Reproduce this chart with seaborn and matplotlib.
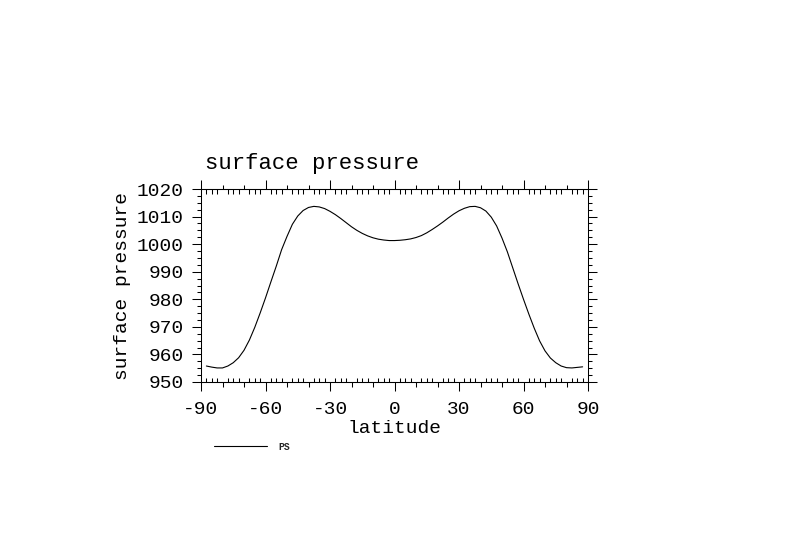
import numpy as np
import pandas as pd
import matplotlib
matplotlib.use("Agg")
import matplotlib.pyplot as plt
from matplotlib.ticker import FixedLocator, NullLocator
import seaborn as sns

# ---- data ----
lat = [-87.5, -85, -82.5, -80, -77.5, -75, -72.5, -70, -67.5, -65, -62.5, -60,
       -57.5, -55, -52.5, -50, -47.5, -45, -42.5, -40, -37.5, -35, -32.5, -30,
       -27.5, -25, -22.5, -20, -17.5, -15, -12.5, -10, -7.5, -5, -2.5, 0,
       2.5, 5, 7.5, 10, 12.5, 15, 17.5, 20, 22.5, 25, 27.5, 30, 32.5, 35,
       37.5, 40, 42.5, 45, 47.5, 50, 52.5, 55, 57.5, 60, 62.5, 65, 67.5, 70,
       72.5, 75, 77.5, 80, 82.5, 85, 87.5]
ps = [955.8, 955.4, 955.1, 955.1, 955.8, 957.0, 958.8, 961.5, 965.2, 969.8, 975.0, 980.5,
      986.3, 992.0, 998.0, 1002.8, 1007.2, 1010.2, 1012.2, 1013.3, 1013.7, 1013.5, 1012.9, 1011.9,
      1010.7, 1009.3, 1007.8, 1006.3, 1005.0, 1003.9, 1003.0, 1002.3, 1001.8, 1001.5, 1001.3, 1001.3,
      1001.4, 1001.6, 1001.9, 1002.4, 1003.1, 1004.1, 1005.3, 1006.6, 1008.0, 1009.5, 1010.9, 1012.1, 1013.0, 1013.6,
      1013.7, 1013.2, 1012.0, 1009.8, 1006.6, 1002.2, 997.2, 991.4, 985.6, 980.0, 974.6, 969.5, 964.9, 961.3,
      958.7, 957.0, 955.8, 955.2, 955.1, 955.3, 955.5]

x_ticks = [-90, -60, -30, 0, 30, 60, 90]
x_ticklabels = ["-90", "-60", "-30", "0", "30", "60", "90"]
y_ticks = [950, 960, 970, 980, 990, 1000, 1010, 1020]

title = "surface pressure"
xlabel = "latitude"
ylabel = "surface pressure"
series_name = "PS"

# ---- style ----
sns.set_theme(style="white")
plt.rcParams["font.family"] = ["Liberation Mono", "DejaVu Sans Mono"]
plt.rcParams["axes.unicode_minus"] = False
plt.rcParams["axes.linewidth"] = 0.75

W, H = 789, 558
fig = plt.figure(figsize=(W / 100, H / 100), dpi=100)
fig.patch.set_facecolor("white")
L, R, T, B = 201, 588, 189, 382
ax = fig.add_axes([L / W, 1 - B / H, (R - L) / W, (B - T) / H])
ax.set_facecolor("white")

df = pd.DataFrame({"latitude": lat, "ps": ps})
sns.lineplot(data=df, x="latitude", y="ps", ax=ax, color="black",
             linewidth=0.8, label=series_name)

ax.set_xlim(-90, 90)
ax.set_ylim(950, 1020)

px = 0.72  # points per pixel
ax.set_xticks(x_ticks)
ax.set_xticklabels(x_ticklabels)
ax.set_yticks(y_ticks)
x_minor = [v for v in np.arange(-90, 90.01, 2.5) if v % 10 != 0]
ax.xaxis.set_minor_locator(FixedLocator(x_minor))
y_minor = [v for v in np.arange(950, 1020.01, 2.5) if v % 10 != 0]
ax.yaxis.set_minor_locator(FixedLocator(y_minor))

ax.tick_params(axis="x", which="major", direction="out", length=9 * px, width=0.75,
               top=True, bottom=True, labelsize=14, pad=7, colors="black")
ax.tick_params(axis="x", which="minor", direction="in", length=4.5 * px, width=0.75,
               top=True, bottom=True, colors="black")
ax.tick_params(axis="y", which="major", direction="out", length=9 * px, width=0.75,
               left=True, right=True, labelsize=14, pad=6, colors="black")
ax.tick_params(axis="y", which="minor", direction="out", length=4 * px, width=0.75,
               left=True, right=True, colors="black")

med = [v for v in range(-80, 90, 10) if v % 30 != 0]
for side in ("bottom", "top"):
    sec = ax.secondary_xaxis(side)
    sec.set_xticks(med)
    sec.xaxis.set_minor_locator(NullLocator())
    sec.tick_params(axis="x", direction="out", length=4.5 * px, width=0.75,
                    labelbottom=False, labeltop=False, colors="black")
    for s in sec.spines.values():
        s.set_linewidth(0.75)
        s.set_color("black")

for s in ax.spines.values():
    s.set_linewidth(0.75)
    s.set_color("black")
    s.set_visible(True)

ax.set_xlabel(xlabel, fontsize=14, labelpad=1.5, color="black")
ax.set_ylabel(ylabel, fontsize=14, labelpad=4, color="black")

fig.text(205 / W, 1 - 168.5 / H, title, fontsize=16, ha="left", va="baseline", color="black")

ax.legend(loc="center left", bbox_to_anchor=(214 / W, 1 - 446.5 / H),
          bbox_transform=fig.transFigure, frameon=False, handlelength=5.5,
          handletextpad=1.1, borderpad=0, borderaxespad=0,
          prop={"size": 7, "weight": "bold", "family": "Liberation Mono"})

fig.savefig("out.png", dpi=100, facecolor="white")
